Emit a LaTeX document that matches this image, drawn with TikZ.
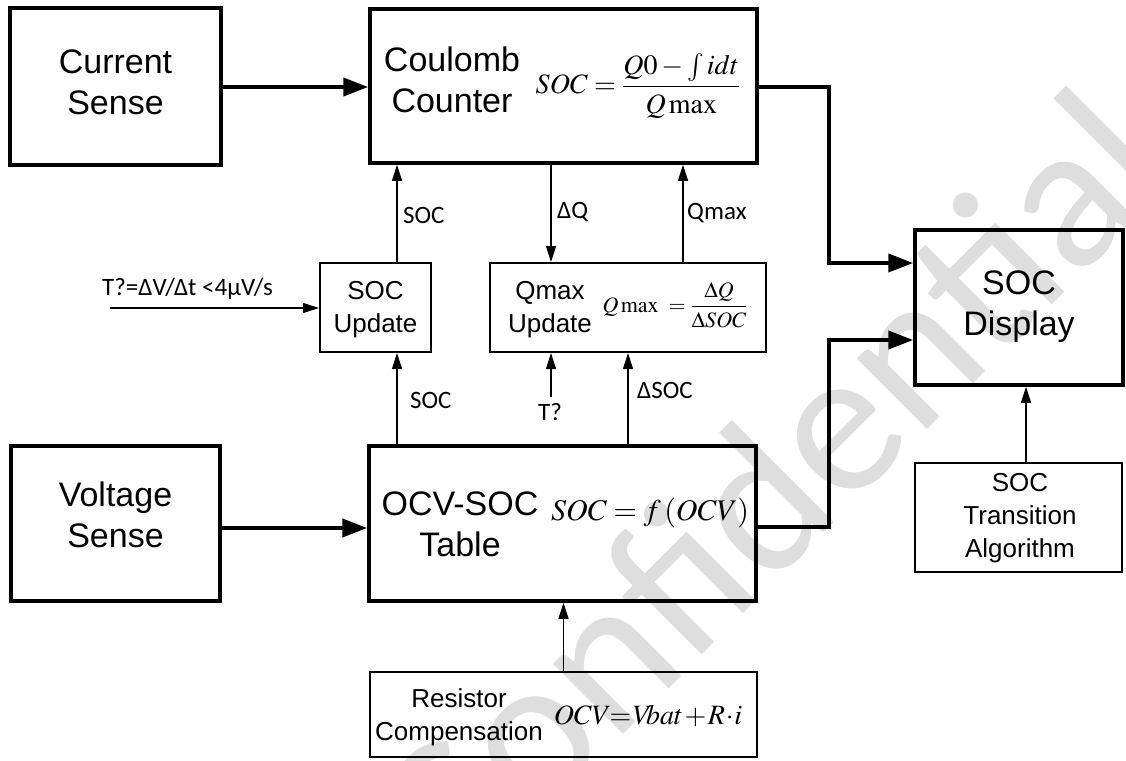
\documentclass[tikz,border=0pt]{standalone}
\usepackage{mathptmx}
\usepackage[no-math]{fontspec}
\setmainfont{Liberation Sans}
\newfontfamily\lblfont{Carlito}
\usetikzlibrary{positioning,arrows.meta}

\begin{document}
\begin{tikzpicture}[x=1pt, y=-1pt,
    bigbox/.style={draw, line width=3.5pt, inner sep=0pt},
    smallbox/.style={draw, line width=2pt, inner sep=0pt},
    bigtxt/.style={align=center, inner sep=0pt, font=\fontsize{34}{41}\selectfont},
    smalltxt/.style={align=center, inner sep=0pt, font=\fontsize{26}{33}\selectfont},
    lbl/.style={inner sep=0pt, font=\lblfont\fontsize{25}{30}\selectfont},
    eqn/.style={inner sep=0pt},
    thickarr/.style={-{Triangle[length=25pt,width=18pt]}, line width=4pt},
    thinarr/.style={-{Triangle[length=16pt,width=10pt]}, line width=1.1pt},
    wmark/.style={text=black!13, font=\lblfont\fontsize{208}{208}\selectfont, rotate=45}
]
\useasboundingbox (0,0) rectangle (1126,760);

% watermark
\node[wmark] (wm) at (768,488) {Confidential};

% main blocks
\node[bigbox, minimum width=211pt, minimum height=157pt] (cur) at (115.5,86.5) {};
\node[bigbox, minimum width=387pt, minimum height=154pt] (cc) at (563.5,86) {};
\node[bigbox, minimum width=208pt, minimum height=155pt] (disp) at (1019,307.5) {};
\node[bigbox, minimum width=209pt, minimum height=155pt] (volt) at (115.5,523.5) {};
\node[bigbox, minimum width=387pt, minimum height=155pt] (ocv) at (562.5,523.5) {};

% small blocks
\node[smallbox, minimum width=111pt, minimum height=89pt] (socup) at (375.5,307.5) {};
\node[smallbox, minimum width=276pt, minimum height=89pt] (qup) at (628,307.5) {};
\node[smallbox, minimum width=207pt, minimum height=109pt] (trans) at (1018.5,517.5) {};
\node[smallbox, minimum width=387pt, minimum height=85pt] (res) at (563.5,714) {};

% block texts
\node[bigtxt] (curtxt) at (115.5,82) {Current\\Sense};
\node[bigtxt] (cctxt) at (452,80) {Coulomb\\Counter};
\node[bigtxt] (disptxt) at (1019,307) {SOC\\Display};
\node[bigtxt] (volttxt) at (115.5,515) {Voltage\\Sense};
\node[bigtxt] (ocvtxt) at (460,524) {OCV-SOC\\Table};
\node[smalltxt] (socuptxt) at (375.5,310) {SOC\\Update};
\node[smalltxt] (quptxt) at (550,310) {Qmax\\Update};
\node[smalltxt] (transtxt) at (1020,518) {SOC\\Transition\\Algorithm};
\node[smalltxt] (restxt) at (459,717) {Resistor\\Compensation};

% formulas
\node[eqn, font=\fontsize{28}{32}\selectfont] (cceq) at (638,86)
  {$\displaystyle SOC=\frac{Q0-\int idt}{Q\max}$};
\node[eqn, font=\fontsize{22}{26}\selectfont] (qeq) at (675,305)
  {$\displaystyle Q\max\;=\frac{\Delta Q}{\Delta SOC}$};
\node[eqn, font=\fontsize{30}{34}\selectfont] (ocveq) at (650,513)
  {$SOC=f\,(OCV)$};
\node[eqn, font=\fontsize{28}{32}\selectfont] (reseq) at (648,716)
  {$OCV\mkern-1mu{=}\mkern1mu V\mkern-4mu bat\mkern1mu{+}\mkern1mu R\mkern-2mu\cdot\mkern-2mu i$};

% lanes and free ends
\coordinate (lsoc) at (397,0);
\coordinate (ldq) at (551,0);
\coordinate (ldsoc) at (628,0);
\coordinate (lqmax) at (683,0);
\coordinate (ltr) at (1026,0);
\coordinate (tin) at (110,308);
\coordinate (tq) at (551,397);
\coordinate (in1) at ([yshift=44.5pt]disp.west);
\coordinate (in2) at ([yshift=-32.5pt]disp.west);

% thick connectors
\draw[thickarr] (cur.east |- 0,87) -- (cc.west |- 0,87);
\draw[thickarr] (volt.east |- 0,528) -- (ocv.west |- 0,528);
\draw[thickarr] (cc.east |- 0,87) -- ++(70,0) |- (in1);
\draw[thickarr] (ocv.east |- 0,527) -- ++(71,0) |- (in2);

% thin connectors
\draw[thinarr] (lsoc |- socup.north) -- (lsoc |- cc.south);
\draw[thinarr] (lsoc |- ocv.north) -- (lsoc |- socup.south);
\draw[thinarr] (ldq |- cc.south) -- (ldq |- qup.north);
\draw[thinarr] (lqmax |- qup.north) -- (lqmax |- cc.south);
\draw[thinarr] (ldsoc |- ocv.north) -- (ldsoc |- qup.south);
\draw[thinarr] (tq) -- (tq |- qup.south);
\draw[thinarr] (tin) -- (tin -| socup.west);
\draw[thinarr] (res.north) -- (res.north |- ocv.south);
\draw[thinarr] (ltr |- trans.north) -- (ltr |- disp.south);

% connector labels
\node[lbl, anchor=base west] (lsocup) at (403,223) {SOC};
\node[lbl, anchor=base west] (lsocdn) at (410,408) {SOC};
\node[lbl, anchor=base west] (ldql) at (557,218) {ΔQ};
\node[lbl, anchor=base west] (lqmaxl) at (687,219) {Qmax};
\node[lbl, anchor=base] (ltq) at (550,420) {T?};
\node[lbl, anchor=base west] (ldsocl) at (637,398) {ΔSOC};
\node[lbl, anchor=base west] (ltin) at (102,295) {T?=ΔV/Δt <4μV/s};
\end{tikzpicture}
\end{document}
